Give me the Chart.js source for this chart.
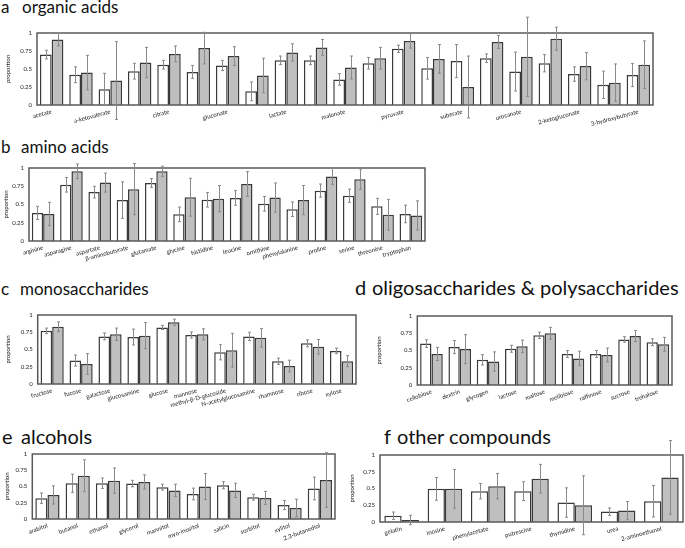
<!DOCTYPE html>
<html>
<head>
<meta charset="utf-8">
<script src="https://cdn.jsdelivr.net/npm/chart.js@4.4.1/dist/chart.umd.min.js"></script>
<style>
  body { margin: 0; background: #fff; }
  #wrap { position: relative; width: 685px; height: 548px; overflow: hidden; background: #fff; }
  canvas { position: absolute; }
  .ttl { position: absolute; font-family: Lato, sans-serif; font-size: 17px; line-height: 1; color: #111; white-space: nowrap; }
  .big { font-size: 20px; }
</style>
</head>
<body>
<div id="wrap">
  <div class="ttl" style="left:1px;top:-2px">a</div><div class="ttl" style="left:22px;top:-2px">organic acids</div>
  <div class="ttl" style="left:1px;top:138px">b</div><div class="ttl" style="left:21px;top:138px">amino acids</div>
  <div class="ttl" style="left:1px;top:280px">c</div><div class="ttl" style="left:20px;top:280px">monosaccharides</div>
  <div class="ttl big" style="left:355px;top:277px">d</div><div class="ttl big" style="left:372px;top:277px">oligosaccharides &amp; polysaccharides</div>
  <div class="ttl big" style="left:2px;top:426px">e</div><div class="ttl big" style="left:21px;top:426px">alcohols</div>
  <div class="ttl big" style="left:384px;top:426px">f</div><div class="ttl big" style="left:397px;top:426px">other compounds</div>
</div>
<script>
// a organic acids (labels only on every other category)
const organicLabels = ['acetate', '', 'a-ketovalerate', '', 'citrate', '', 'gluconate', '', 'lactate', '', 'malonate', '',
  'pyruvate', '', 'suberate', '', 'urocanate', '', '2-ketogluconate', '', '3-hydroxybutyrate'];
const organicWhite = [0.70, 0.42, 0.22, 0.47, 0.56, 0.46, 0.55, 0.19, 0.62, 0.62, 0.355, 0.58, 0.78, 0.51, 0.61, 0.65, 0.465, 0.58, 0.43, 0.28, 0.415];
const organicWhiteErr = [0.06, 0.11, 0.22, 0.11, 0.06, 0.09, 0.07, 0.13, 0.06, 0.06, 0.08, 0.08, 0.05, 0.15, 0.23, 0.06, 0.27, 0.12, 0.10, 0.19, 0.16];
const organicGray = [0.91, 0.45, 0.34, 0.59, 0.71, 0.79, 0.68, 0.41, 0.73, 0.80, 0.52, 0.65, 0.89, 0.64, 0.25, 0.875, 0.67, 0.92, 0.54, 0.31, 0.56];
const organicGrayErr = [0.09, 0.24, 0.54, 0.21, 0.11, 0.22, 0.13, 0.24, 0.12, 0.11, 0.16, 0.15, 0.10, 0.20, 0.43, 0.09, 0.55, 0.16, 0.19, 0.26, 0.33];

// b amino acids
const aminoLabels = ['arginine', 'asparagine', 'aspartate', 'β-aminobutyrate', 'glutamate', 'glycine', 'histidine',
  'leucine', 'ornithine', 'phenylalanine', 'proline', 'serine', 'threonine', 'tryptophan'];
const aminoWhite = [0.385, 0.77, 0.67, 0.56, 0.795, 0.365, 0.565, 0.59, 0.51, 0.435, 0.69, 0.62, 0.475, 0.37];
const aminoWhiteErr = [0.09, 0.10, 0.08, 0.25, 0.06, 0.10, 0.10, 0.10, 0.10, 0.10, 0.09, 0.09, 0.11, 0.12];
const aminoGray = [0.37, 0.955, 0.80, 0.71, 0.955, 0.60, 0.58, 0.78, 0.595, 0.56, 0.885, 0.846, 0.36, 0.35];
const aminoGrayErr = [0.16, 0.10, 0.13, 0.35, 0.07, 0.26, 0.18, 0.17, 0.20, 0.20, 0.11, 0.14, 0.21, 0.20];

// c monosaccharides
const monoLabels = ['fructose', 'fucose', 'galactose', 'glucosamine', 'glucose', 'mannose', 'methyl-β-D-glucoside',
  'N-acetylglucosamine', 'rhamnose', 'ribose', 'xylose'];
const monoWhite = [0.77, 0.34, 0.69, 0.68, 0.82, 0.71, 0.46, 0.69, 0.33, 0.59, 0.48];
const monoWhiteErr = [0.04, 0.08, 0.05, 0.115, 0.03, 0.045, 0.11, 0.06, 0.045, 0.05, 0.04];
const monoGray = [0.83, 0.29, 0.72, 0.70, 0.895, 0.72, 0.49, 0.67, 0.26, 0.54, 0.33];
const monoGrayErr = [0.07, 0.15, 0.09, 0.19, 0.045, 0.08, 0.245, 0.135, 0.085, 0.105, 0.08];

// d oligosaccharides & polysaccharides
const oligoLabels = ['cellobiose', 'dextrin', 'glycogen', 'lactose', 'maltose', 'melibiose', 'raffinose', 'sucrose', 'trehalose'];
const oligoWhite = [0.60, 0.55, 0.365, 0.525, 0.72, 0.45, 0.45, 0.66, 0.62];
const oligoWhiteErr = [0.055, 0.095, 0.075, 0.05, 0.045, 0.05, 0.05, 0.04, 0.05];
const oligoGray = [0.45, 0.52, 0.34, 0.56, 0.75, 0.385, 0.435, 0.71, 0.59];
const oligoGrayErr = [0.095, 0.21, 0.14, 0.09, 0.085, 0.105, 0.10, 0.08, 0.10];

// e alcohols
const alcLabels = ['arabitol', 'butanol', 'ethanol', 'glycerol', 'mannitol', 'myo-inositol', 'salicin', 'sorbitol', 'xylitol', '2,3-butanediol'];
const alcWhite = [0.32, 0.55, 0.55, 0.545, 0.49, 0.385, 0.52, 0.335, 0.215, 0.47];
const alcWhiteErr = [0.08, 0.14, 0.08, 0.05, 0.045, 0.09, 0.055, 0.045, 0.07, 0.175];
const alcGray = [0.37, 0.665, 0.59, 0.57, 0.44, 0.50, 0.44, 0.325, 0.17, 0.60];
const alcGrayErr = [0.14, 0.245, 0.195, 0.11, 0.095, 0.20, 0.11, 0.10, 0.135, 0.42];

// f other compounds
const otherLabels = ['gelatin', 'inosine', 'phenylacetate', 'putrescine', 'thymidine', 'urea', '2-aminoethanol'];
const otherWhite = [0.094, 0.495, 0.46, 0.46, 0.29, 0.155, 0.31];
const otherWhiteErr = [0.055, 0.17, 0.115, 0.14, 0.22, 0.055, 0.235];
const otherGray = [0.03, 0.495, 0.535, 0.645, 0.25, 0.17, 0.665];
const otherGrayErr = [0.07, 0.29, 0.19, 0.215, 0.44, 0.135, 0.55];

const yTicks = [0, 0.25, 0.5, 0.75, 1];

// frame around the plot + error bars
const framePlugin = {
  id: 'frameErr',
  afterDatasetsDraw(chart) {
    const { ctx, chartArea: a, scales: { y } } = chart;
    ctx.save();
    ctx.strokeStyle = '#5a5a5a';
    ctx.lineWidth = 1.5;
    ctx.strokeRect(a.left, a.top, a.right - a.left, a.bottom - a.top);
    ctx.strokeStyle = '#8a8a8a';
    ctx.lineWidth = 1;
    chart.data.datasets.forEach((ds, di) => {
      chart.getDatasetMeta(di).data.forEach((bar, i) => {
        const v = ds.data[i], e = ds.err[i];
        const y1 = y.getPixelForValue(v + e), y2 = y.getPixelForValue(v - e);
        const x = Math.round(bar.x) + 0.5;
        ctx.beginPath();
        ctx.moveTo(x, y1); ctx.lineTo(x, y2);
        ctx.moveTo(x - 1.5, y1); ctx.lineTo(x + 1.5, y1);
        ctx.moveTo(x - 1.5, y2); ctx.lineTo(x + 1.5, y2);
        ctx.stroke();
      });
    });
    ctx.restore();
  }
};

function makePanel(p) {
  const [bl, bt, br, bb] = p.box;
  const padTop = 22, xH = 34, padRight = 3;
  const canvas = document.createElement('canvas');
  canvas.width = Math.round(br + padRight - p.left);
  canvas.height = Math.round(padTop + (bb - bt) + xH);
  canvas.style.left = p.left + 'px';
  canvas.style.top = (bt - padTop) + 'px';
  document.getElementById('wrap').appendChild(canvas);

  const barStyle = { barPercentage: 1.0, categoryPercentage: 0.8, borderWidth: 1.5, borderColor: '#3a3a3a' };
  new Chart(canvas, {
    type: 'bar',
    data: {
      labels: p.labels,
      datasets: [
        Object.assign({ data: p.white, err: p.whiteErr, backgroundColor: '#ffffff' }, barStyle),
        Object.assign({ data: p.gray, err: p.grayErr, backgroundColor: '#bfbfbf' }, barStyle)
      ]
    },
    options: {
      responsive: false,
      animation: false,
      layout: { padding: { top: padTop, right: padRight, left: 0, bottom: 0 } },
      plugins: { legend: { display: false }, tooltip: { enabled: false } },
      scales: {
        x: {
          grid: { display: false, drawTicks: false },
          border: { display: false },
          ticks: {
            autoSkip: false, minRotation: p.rot, maxRotation: p.rot, padding: 3,
            color: '#222', font: { family: 'Lato', size: 6 }
          },
          afterFit: s => { s.height = xH; }
        },
        y: {
          min: 0, max: 1,
          grid: { display: false, drawTicks: false },
          border: { display: false },
          afterBuildTicks: s => { s.ticks = yTicks.map(v => ({ value: v })); },
          ticks: {
            padding: 5, color: '#222', font: { family: 'Lato', size: 6 },
            callback: v => String(v)
          },
          title: { display: true, text: 'proportion', color: '#222', font: { family: 'Lato', size: 6 }, padding: { top: 3, bottom: 0 } },
          afterFit: s => { s.width = bl - p.left; }
        }
      }
    },
    plugins: [framePlugin]
  });
}

makePanel({ labels: organicLabels, white: organicWhite, whiteErr: organicWhiteErr, gray: organicGray, grayErr: organicGrayErr,
  box: [37, 33.3, 653, 105.7], left: 1, rot: 15 });
makePanel({ labels: aminoLabels, white: aminoWhite, whiteErr: aminoWhiteErr, gray: aminoGray, grayErr: aminoGrayErr,
  box: [29, 168.3, 424.5, 241.7], left: -1, rot: 15 });
makePanel({ labels: monoLabels, white: monoWhite, whiteErr: monoWhiteErr, gray: monoGray, grayErr: monoGrayErr,
  box: [37.7, 315, 356, 384.3], left: 1, rot: 15 });
makePanel({ labels: oligoLabels, white: oligoWhite, whiteErr: oligoWhiteErr, gray: oligoGray, grayErr: oligoGrayErr,
  box: [417.3, 316, 671.7, 385.3], left: 372, rot: 20 });
makePanel({ labels: alcLabels, white: alcWhite, whiteErr: alcWhiteErr, gray: alcGray, grayErr: alcGrayErr,
  box: [32.3, 454.3, 335, 519], left: 0, rot: 20 });
makePanel({ labels: otherLabels, white: otherWhite, whiteErr: otherWhiteErr, gray: otherGray, grayErr: otherGrayErr,
  box: [380, 455, 683, 522.3], left: 345, rot: 15 });
</script>
</body>
</html>
